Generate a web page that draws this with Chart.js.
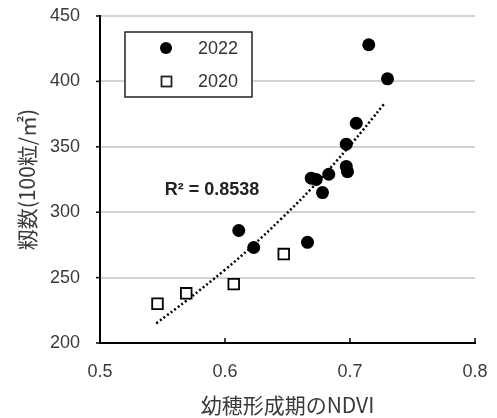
<!DOCTYPE html>
<html>
<head>
<meta charset="utf-8">
<script src="https://cdn.jsdelivr.net/npm/chart.js@4"></script>
<style>
  html, body { margin: 0; padding: 0; background: #fff; }
  #wrap { width: 497px; height: 418px; position: relative; }
</style>
</head>
<body>
<div id="wrap"><canvas id="chart"></canvas></div>
<script>
// 2022 (filled circles)
const ndvi2022 = [0.611, 0.623, 0.666, 0.669, 0.673, 0.678, 0.683, 0.697, 0.698, 0.697, 0.705, 0.715, 0.730];
const grain2022 = [286, 273, 277, 326, 325, 315, 329, 335, 331, 352, 368, 428, 402];
// 2020 (open squares)
const ndvi2020 = [0.546, 0.569, 0.607, 0.647];
const grain2020 = [230, 238, 245, 268];
// trend line
const trendX = [0.545, 0.57, 0.60, 0.62, 0.645, 0.67, 0.70, 0.7275];
const trendY = [215, 233, 256, 272.5, 295, 319, 351, 383];
const xTicks = [0.5, 0.6, 0.7, 0.8];
const yTicks = [200, 250, 300, 350, 400, 450];
const r2Label = "R² = 0.8538";

const toPts = (xs, ys) => xs.map((x, i) => ({ x: x, y: ys[i] }));
const latin = "'Liberation Sans', 'Noto Sans CJK JP', sans-serif";
const jp = "'Noto Sans CJK JP', sans-serif";

// legend box, R² text and the short axis ticks
const decorPlugin = {
  id: 'decor',
  afterDraw(chart) {
    const ctx = chart.ctx;
    const xs = chart.scales.x;
    const ys = chart.scales.y;
    const area = chart.chartArea;
    ctx.save();
    ctx.strokeStyle = '#000';
    ctx.lineWidth = 1.5;
    // inner tick marks on the x axis
    xTicks.forEach(v => {
      const px = xs.getPixelForValue(v);
      ctx.beginPath();
      ctx.moveTo(px, area.bottom);
      ctx.lineTo(px, area.bottom - 5);
      ctx.stroke();
    });
    // outer tick marks on the y axis
    yTicks.forEach(v => {
      const py = ys.getPixelForValue(v);
      ctx.beginPath();
      ctx.moveTo(area.left, py);
      ctx.lineTo(area.left - 4, py);
      ctx.stroke();
    });
    // legend
    ctx.fillStyle = '#fff';
    ctx.fillRect(125, 32, 127, 65);
    ctx.lineWidth = 1.5;
    ctx.strokeStyle = '#222';
    ctx.strokeRect(125, 32, 127, 65);
    ctx.fillStyle = '#000';
    ctx.beginPath();
    ctx.arc(166, 48, 6, 0, Math.PI * 2);
    ctx.fill();
    ctx.lineWidth = 1.8;
    ctx.strokeRect(161.5, 76.5, 10, 10);
    ctx.fillStyle = '#333';
    ctx.font = '18px ' + latin;
    ctx.textBaseline = 'middle';
    ctx.textAlign = 'left';
    ctx.fillText('2022', 198, 49);
    ctx.fillText('2020', 198, 82);
    // R²
    ctx.font = 'bold 18px ' + latin;
    ctx.fillStyle = '#222';
    ctx.textAlign = 'center';
    ctx.fillText(r2Label, 212, 190);
    ctx.restore();
  }
};

new Chart(document.getElementById('chart'), {
  type: 'scatter',
  data: {
    datasets: [
      {
        label: '2022',
        data: toPts(ndvi2022, grain2022),
        pointStyle: 'circle',
        pointRadius: 6.5,
        backgroundColor: '#000',
        borderColor: '#000',
        borderWidth: 0,
        order: 1
      },
      {
        label: '2020',
        data: toPts(ndvi2020, grain2020),
        pointStyle: 'rect',
        pointRadius: 7.5,
        backgroundColor: '#fff',
        borderColor: '#000',
        borderWidth: 1.8,
        order: 2
      },
      {
        label: 'trend',
        type: 'line',
        data: toPts(trendX, trendY),
        showLine: true,
        borderColor: '#000',
        borderWidth: 2.5,
        borderDash: [2, 2.5],
        pointRadius: 0,
        tension: 0.4,
        fill: false,
        order: 3
      }
    ]
  },
  options: {
    responsive: true,
    maintainAspectRatio: false,
    animation: false,
    layout: { padding: { top: 16, right: 22, left: 0, bottom: 0 } },
    plugins: {
      legend: { display: false },
      tooltip: { enabled: false }
    },
    scales: {
      x: {
        type: 'linear',
        min: 0.5,
        max: 0.8,
        afterBuildTicks: s => { s.ticks = xTicks.map(v => ({ value: v })); },
        grid: {
          display: true,
          drawOnChartArea: false,
          drawTicks: true,
          tickLength: 18,
          tickColor: 'rgba(0,0,0,0)'
        },
        border: { display: true, color: '#000', width: 2 },
        ticks: {
          padding: 0,
          color: '#3a3a3a',
          font: { family: latin, size: 18 },
          callback: v => v.toFixed(1)
        },
        title: {
          display: true,
          text: '幼穂形成期のNDVI',
          color: '#3a3a3a',
          font: { family: jp, size: 21 },
          padding: { top: 2, bottom: 0 }
        },
        afterFit: s => { s.height = 75; }
      },
      y: {
        type: 'linear',
        min: 200,
        max: 450,
        afterBuildTicks: s => { s.ticks = yTicks.map(v => ({ value: v })); },
        grid: {
          color: ctx => ctx.tick && ctx.tick.value === 200 ? 'rgba(0,0,0,0)' : '#d4d4d4',
          lineWidth: 2,
          drawTicks: true,
          tickLength: 20,
          tickColor: 'rgba(0,0,0,0)'
        },
        border: { display: true, color: '#000', width: 2 },
        ticks: {
          padding: 0,
          color: '#3a3a3a',
          font: { family: latin, size: 18 }
        },
        title: {
          display: true,
          text: '籾数(100粒/㎡)',
          color: '#3a3a3a',
          font: { family: jp, size: 21 },
          padding: { top: 14, bottom: 0 }
        },
        afterFit: s => { s.width = 100; }
      }
    }
  },
  plugins: [decorPlugin]
});
</script>
</body>
</html>
